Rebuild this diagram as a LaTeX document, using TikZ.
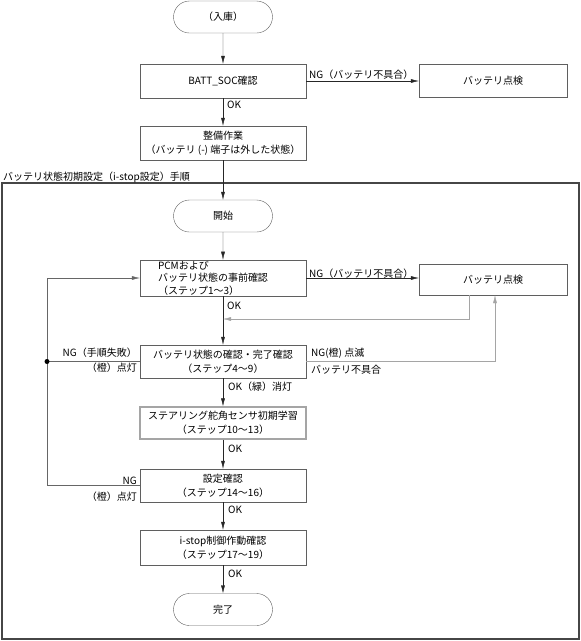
\documentclass[tikz,border=0pt]{standalone}
\usepackage{fontspec}
\setmainfont{Noto Sans CJK JP}
\usetikzlibrary{arrows.meta, positioning, shapes.misc, calc}
\definecolor{boxline}{RGB}{95,95,95}
\definecolor{backline}{RGB}{165,165,165}
\definecolor{frameline}{RGB}{70,70,70}

\begin{document}
\begin{tikzpicture}[x=1pt, y=-1pt, font=\fontsize{10}{14}\selectfont,
    terminal/.style={draw=boxline, rounded rectangle, minimum width=99pt, minimum height=32pt, inner sep=0pt},
    procbox/.style={draw=boxline, rectangle, minimum width=166pt, inner sep=1pt, align=center},
    flow/.style={draw=black!85, -{Latex[length=8pt,width=4pt]}},
    loopline/.style={draw=black!60},
    lbl/.style={inner sep=0pt}]
    \useasboundingbox (0,0) rectangle (581,641);

    % 外枠
    \draw[frameline, line width=1.3pt] (2,183) rectangle (579,639);
    \node[anchor=base west, inner sep=0pt] (ttl) at (3,180) {バッテリ状態初期設定（i-stop設定）手順};

    % ノード
    \node[terminal] (nyuko) at (223,17) {（入庫）};
    \node[procbox, minimum height=34pt] (soc) at (223,81) {BATT\_SOC確認};
    \node[procbox, minimum width=148pt, minimum height=33pt] (chkA) at (493,80.5) {バッテリ点検};
    \node[procbox, minimum height=34pt] (prep) at (223,143) {整備作業\\（バッテリ (-) 端子は外した状態）};
    \node[terminal] (begin) at (223,216) {開始};
    \node[procbox, minimum height=36pt, align=left, text width=130pt,
          font=\fontsize{10}{12.5}\selectfont] (pcm) at (223,278) {PCMおよび\\バッテリ状態の事前確認\\（ステップ1～3）};
    \node[procbox, minimum width=148pt, minimum height=31pt] (chkB) at (493,279.5) {バッテリ点検};
    \node[procbox, minimum height=33pt] (state) at (223,361.5) {バッテリ状態の確認・完了確認\\（ステップ4～9）};
    \node[procbox, draw=backline, line width=1.3pt, minimum height=32pt] (steer) at (223,423) {ステアリング舵角センサ初期学習\\（ステップ10～13）};
    \node[procbox, minimum height=33pt] (conf) at (223,485.5) {設定確認\\（ステップ14～16）};
    \node[procbox, minimum height=35pt] (istop) at (223,547.5) {i-stop制御作動確認\\（ステップ17～19）};
    \node[terminal] (done) at (223,609.5) {完了};

    % 主な流れ
    \draw[flow] (nyuko) -- (soc);
    \draw[flow] (soc) -- (prep);
    \draw[flow] (prep) -- (begin);
    \draw[flow] (begin) -- (pcm);
    \draw[flow] (pcm) -- (state);
    \draw[flow] (state) -- (steer);
    \draw[flow] (steer) -- (conf);
    \draw[flow] (conf) -- (istop);
    \draw[flow] (istop) -- (done);

    % NG（バッテリ不具合）
    \draw[flow] (soc.east) -- (soc.east -| chkA.west);
    \draw[flow] (pcm.east) -- (pcm.east -| chkB.west);
    \coordinate (turn) at (495,361.5);
    \draw[flow, draw=backline] (state.east) -- (turn) -- (turn |- chkB.south);
    \coordinate (back) at (469,319);
    \draw[flow, draw=backline] (back |- chkB.south) -- (back) -- (back -| pcm.south);

    % やり直し
    \coordinate (junc) at (47,361.5);
    \draw[loopline] (state.west) -- (junc);
    \draw[loopline] (conf.west) -- (conf.west -| junc) -- (junc);
    \draw[flow, draw=black!60] (junc) -- (junc |- pcm.west) -- (pcm.west);
    \fill (junc) circle (2.5pt);

    % ラベル
    \node[lbl, anchor=base west] (okA) at (227,108) {OK};
    \node[lbl, anchor=base west] (ngA) at (309,78.5) {NG（バッテリ不具合）};
    \node[lbl, anchor=base west] (ngB) at (309,277) {NG（バッテリ不具合）};
    \node[lbl, anchor=base west] (okB) at (227,309) {OK};
    \node[lbl, anchor=base west] (ngC) at (311,356) {NG(橙) 点滅};
    \node[lbl, anchor=base west] (ngD) at (311,373) {バッテリ不具合};
    \node[lbl, anchor=base east] (ngE) at (137,356.5) {NG（手順失敗）};
    \node[lbl, anchor=base east] (ngF) at (137,371.5) {（橙）点灯};
    \node[lbl, anchor=base west] (okC) at (228,390) {OK（緑）消灯};
    \node[lbl, anchor=base west] (okD) at (228,452) {OK};
    \node[lbl, anchor=base east] (ngG) at (137,484.5) {NG};
    \node[lbl, anchor=base east] (ngH) at (137,500) {（橙）点灯};
    \node[lbl, anchor=base west] (okE) at (228,513) {OK};
    \node[lbl, anchor=base west] (okF) at (228,577) {OK};
\end{tikzpicture}
\end{document}
